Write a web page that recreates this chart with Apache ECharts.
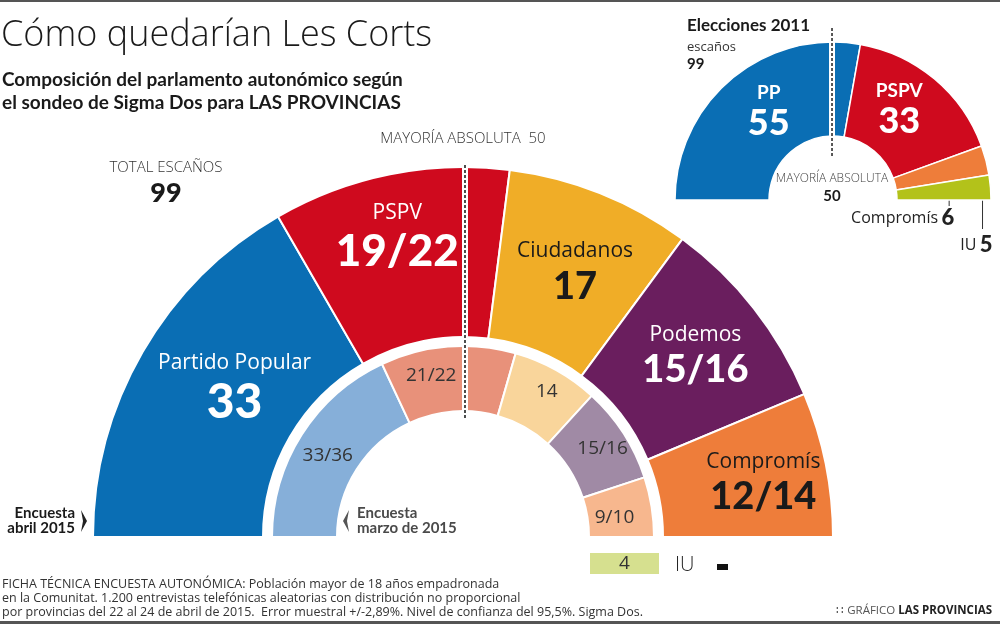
<!DOCTYPE html>
<html><head><meta charset="utf-8">
<script src="https://cdn.jsdelivr.net/npm/echarts@6/dist/echarts.min.js"></script>
<style>html,body{margin:0;padding:0;background:#fff}#c{width:1000px;height:624px}</style>
</head><body><div id="c"></div>
<script>
// ---------------- DATA ----------------
const partidos = ['Partido Popular', 'PSPV', 'Ciudadanos', 'Podemos', 'Compromís'];
// Encuesta abril 2015 (outer ring): printed labels and seat widths as drawn
const abrilEtiquetas = ['33', '19/22', '17', '15/16', '12/14'];
const abrilArco = [33, 20.5, 16, 17, 12.5];
// Encuesta marzo 2015 (inner ring)
const marzoEtiquetas = ['33/36', '21/22', '14', '15/16', '9/10'];
const marzoArco = [35.7, 22.6, 14.5, 16.2, 10.0];
// IU
const iuNombre = 'IU';
const iuMarzo = 4;
const iuAbril = '-';
// Elecciones 2011
const partidos2011 = ['PP', 'PSPV', 'Compromís', 'IU'];
const escanos2011 = [55, 33, 6, 5];
const totalEscanos = 99;
const mayoriaAbsoluta = 50;

// ---------------- STYLE ----------------
const colAbril = ['#0a6eb4', '#cf0a1e', '#f0ad27', '#6a1e5e', '#ee7d3a'];
const colMarzo = ['#86afd9', '#e8917a', '#f9d59b', '#a08aa5', '#f7b78e'];
const col2011 = ['#0a6eb4', '#cf0a1e', '#ee7d3a', '#b3c21a'];
const txtAbril = ['#fff', '#fff', '#1a1a1a', '#fff', '#1a1a1a'];
const valSize = [48, 44, 38, 38, 38];
const shiftAbril = [[21, -7], [-9, -20], [5, 0], [6, -6], [18, 0]];
const shiftMarzo = [[1, 5], [-19, 0], [5, -4], [4, -1], [-8, 6]];
const shift2011 = [[9, -3], [-7, -5]];
const CX = 463, CY = 537;
const CX2 = 833, CY2 = 200;
const FN = '"Open Sans", sans-serif';
const FB = 'Lato, "Open Sans", sans-serif';

function shiftLayout(shifts) {
  return function (p) {
    const s = shifts[p.dataIndex] || [0, 0];
    const r = p.labelRect;
    return { x: r.x + r.width / 2 + s[0], y: r.y + r.height / 2 + s[1], align: 'center', verticalAlign: 'middle' };
  };
}

const majAngle = Math.PI * (1 - mayoriaAbsoluta / totalEscanos);
const majX = CX + 126 * Math.cos(majAngle);
const majX2 = CX2 + 64 * Math.cos(majAngle) - 2;

const abrilData = partidos.map((p, i) => ({
  name: p, value: abrilArco[i],
  itemStyle: { color: colAbril[i] },
  label: {
    rich: {
      n: { fontFamily: FN, fontSize: 21, color: txtAbril[i], lineHeight: 30 },
      v: { fontFamily: FB, fontWeight: 900, fontSize: valSize[i], color: txtAbril[i], lineHeight: valSize[i] + 2 }
    }
  }
}));
const marzoData = partidos.map((p, i) => ({
  name: p, value: marzoArco[i], itemStyle: { color: colMarzo[i] }
}));

function mid2011(i) {
  let s = 0; for (let k = 0; k < i; k++) s += escanos2011[k];
  s += escanos2011[i] / 2;
  const tot = escanos2011.reduce((a, b) => a + b, 0);
  return Math.PI * (1 - s / tot);
}

const data2011 = partidos2011.map((p, i) => {
  const d = { name: p, value: escanos2011[i], itemStyle: { color: col2011[i] } };
  if (i >= 2) {
    d.label = { position: 'outside' };
    d.labelLine = { show: true, lineStyle: { color: '#333', width: 1 } };
  }
  return d;
});

const graphics = [
  { type: 'rect', z: 100, shape: { x: 0, y: 0, width: 1000, height: 2 }, style: { fill: '#555' } },
  { type: 'rect', z: 100, shape: { x: 0, y: 621, width: 1000, height: 3 }, style: { fill: '#555' } },
  { type: 'text', z: 100, style: { x: 1, y: 36, text: 'Cómo quedarían Les Corts', font: '300 36px "Open Sans"', fill: '#1a1a1a', align: 'left', verticalAlign: 'middle' } },
  { type: 'text', z: 100, style: { x: 2, y: 80, text: 'Composición del parlamento autonómico según', font: 'bold 19px Lato', fill: '#1a1a1a', align: 'left', verticalAlign: 'middle' } },
  { type: 'text', z: 100, style: { x: 2, y: 103, text: 'el sondeo de Sigma Dos para LAS PROVINCIAS', font: 'bold 19px Lato', fill: '#1a1a1a', align: 'left', verticalAlign: 'middle' } },
  { type: 'text', z: 100, style: { x: 463, y: 139, text: 'MAYORÍA ABSOLUTA  ' + mayoriaAbsoluta, font: '300 15px "Open Sans"', fill: '#333', align: 'center', verticalAlign: 'middle' } },
  { type: 'text', z: 100, style: { x: 166, y: 168, text: 'TOTAL ESCAÑOS', font: '300 15px "Open Sans"', fill: '#333', align: 'center', verticalAlign: 'middle' } },
  { type: 'text', z: 100, style: { x: 166, y: 193, text: String(totalEscanos), font: '900 27px Lato', fill: '#1a1a1a', align: 'center', verticalAlign: 'middle' } },
  // majority dashed lines (white band + dots)
  { type: 'line', z: 100, shape: { x1: majX, y1: CY - 372, x2: majX, y2: CY - 119 }, style: { stroke: '#fff', lineWidth: 6 } },
  { type: 'line', z: 101, shape: { x1: majX, y1: CY - 372, x2: majX, y2: CY - 119 }, style: { stroke: '#222', lineWidth: 1.6, lineDash: [3, 2] } },
  { type: 'line', z: 100, shape: { x1: majX2, y1: 28, x2: majX2, y2: 157 }, style: { stroke: '#fff', lineWidth: 6 } },
  { type: 'line', z: 101, shape: { x1: majX2, y1: 28, x2: majX2, y2: 157 }, style: { stroke: '#222', lineWidth: 1.5, lineDash: [3, 2] } },
  // small chart texts
  { type: 'text', z: 100, style: { x: 687, y: 26, text: 'Elecciones 2011', font: 'bold 17px Lato', fill: '#1a1a1a', align: 'left', verticalAlign: 'middle' } },
  { type: 'text', z: 100, style: { x: 687, y: 47, text: 'escaños', font: '13px "Open Sans"', fill: '#333', align: 'left', verticalAlign: 'middle' } },
  { type: 'text', z: 100, style: { x: 687, y: 64, text: String(totalEscanos), font: 'bold 15px Lato', fill: '#1a1a1a', align: 'left', verticalAlign: 'middle' } },
  { type: 'text', z: 100, style: { x: 832, y: 179, text: 'MAYORÍA ABSOLUTA', font: '300 12px "Open Sans"', fill: '#444', align: 'center', verticalAlign: 'middle' } },
  { type: 'text', z: 100, style: { x: 832, y: 196, text: String(mayoriaAbsoluta), font: 'bold 15px Lato', fill: '#1a1a1a', align: 'center', verticalAlign: 'middle' } },
  // encuesta markers
  { type: 'text', z: 100, style: { x: 75, y: 513, text: 'Encuesta', font: 'bold 15px Lato', fill: '#1a1a1a', align: 'right', verticalAlign: 'middle' } },
  { type: 'text', z: 100, style: { x: 75, y: 528, text: 'abril 2015', font: 'bold 15px Lato', fill: '#1a1a1a', align: 'right', verticalAlign: 'middle' } },
  { type: 'polygon', z: 100, shape: { points: [[81, 510], [87, 521], [81, 532], [83, 521]] }, style: { fill: '#222' } },
  { type: 'polygon', z: 100, shape: { points: [[349, 510], [343, 521], [349, 532], [347, 521]] }, style: { fill: '#555' } },
  { type: 'text', z: 100, style: { x: 357, y: 513, text: 'Encuesta', font: 'bold 15px Lato', fill: '#4a4a4a', align: 'left', verticalAlign: 'middle' } },
  { type: 'text', z: 100, style: { x: 357, y: 528, text: 'marzo de 2015', font: 'bold 15px Lato', fill: '#4a4a4a', align: 'left', verticalAlign: 'middle' } },
  // IU
  { type: 'text', z: 100, style: { x: 675, y: 565, text: iuNombre, font: '300 20px "Open Sans"', fill: '#222', align: 'left', verticalAlign: 'middle' } },
  // footnote
  { type: 'text', z: 100, style: { x: 2, y: 584, text: 'FICHA TÉCNICA ENCUESTA AUTONÓMICA: Población mayor de 18 años empadronada', font: '12.5px "Open Sans"', fill: '#333', align: 'left', verticalAlign: 'middle' } },
  { type: 'text', z: 100, style: { x: 2, y: 598, text: 'en la Comunitat. 1.200 entrevistas telefónicas aleatorias con distribución no proporcional', font: '12.5px "Open Sans"', fill: '#333', align: 'left', verticalAlign: 'middle' } },
  { type: 'text', z: 100, style: { x: 2, y: 612, text: 'por provincias del 22 al 24 de abril de 2015.  Error muestral +/-2,89%. Nivel de confianza del 95,5%. Sigma Dos.', font: '12.5px "Open Sans"', fill: '#333', align: 'left', verticalAlign: 'middle' } },
  { type: 'text', z: 100, style: { x: 992, y: 611, text: '{a|∷ GRÁFICO }{b|LAS PROVINCIAS}', align: 'right', verticalAlign: 'middle',
      rich: { a: { fontFamily: FN, fontSize: 11.5, fill: '#555' }, b: { fontFamily: FN, fontWeight: 'bold', fontSize: 11.5, fill: '#222' } } } }
];
// IU in the April survey: no seats, drawn as a dash
if (iuAbril === '-') {
  graphics.push({ type: 'rect', z: 100, shape: { x: 717, y: 564, width: 11, height: 6 }, style: { fill: '#111' } });
}

const chart = echarts.init(document.getElementById('c'), null, { renderer: 'canvas' });
chart.setOption({
  animation: false,
  backgroundColor: '#fff',
  grid: { left: 590, top: 553, width: 69, height: 21 },
  xAxis: { type: 'value', min: 0, max: iuMarzo, show: false },
  yAxis: { type: 'category', data: [iuNombre], show: false },
  series: [
    {
      type: 'pie', center: [CX, CY], radius: [200, 370], startAngle: 180, endAngle: 0,
      clockwise: true, silent: true, avoidLabelOverlap: false,
      itemStyle: { borderColor: '#fff', borderWidth: 2 },
      label: {
        show: true, position: 'inside',
        formatter: p => '{n|' + p.name + '}\n{v|' + abrilEtiquetas[p.dataIndex] + '}'
      },
      labelLine: { show: false },
      labelLayout: shiftLayout(shiftAbril),
      data: abrilData
    },
    {
      type: 'pie', center: [CX, CY], radius: [126, 191], startAngle: 180, endAngle: 0,
      clockwise: true, silent: true, avoidLabelOverlap: false,
      itemStyle: { borderColor: '#fff', borderWidth: 2 },
      label: {
        show: true, position: 'inside',
        formatter: p => marzoEtiquetas[p.dataIndex],
        fontFamily: FN, fontSize: 19, color: '#333'
      },
      labelLine: { show: false },
      labelLayout: shiftLayout(shiftMarzo),
      data: marzoData
    },
    {
      type: 'pie', center: [CX2, CY2], radius: [64, 158], startAngle: 180, endAngle: 0,
      clockwise: true, silent: true, avoidLabelOverlap: false,
      itemStyle: { borderColor: '#fff', borderWidth: 1.5 },
      label: {
        show: true, position: 'inside',
        formatter: p => p.dataIndex < 2 ? '{n|' + p.name + '}\n{v|' + p.value + '}' : '{o|' + p.name + '} {w|' + p.value + '}',
        rich: {
          n: { fontFamily: FB, fontWeight: 'bold', fontSize: 19, color: '#fff', lineHeight: 24 },
          v: { fontFamily: FB, fontWeight: 900, fontSize: 36, color: '#fff', lineHeight: 36 },
          o: { fontFamily: FN, fontSize: 16, color: '#222' },
          w: { fontFamily: FB, fontWeight: 900, fontSize: 22, color: '#222' }
        }
      },
      labelLine: { show: false },
      labelLayout: function (p) {
        const i = p.dataIndex;
        const r = p.labelRect;
        if (i < 2) {
          const s = shift2011[i];
          return { x: r.x + r.width / 2 + s[0], y: r.y + r.height / 2 + s[1], align: 'center', verticalAlign: 'middle' };
        }
        const a = mid2011(i);
        const rr = i === 2 ? 120 : 150;
        const x0 = CX2 + rr * Math.cos(a);
        const y0 = CY2 - rr * Math.sin(a);
        const yEnd = i === 2 ? 206 : 229;
        const lx = i === 2 ? x0 + 5 : x0 + 10;
        const ly = i === 2 ? 218 : 245;
        return { x: lx, y: ly, align: 'right', verticalAlign: 'middle',
          labelLinePoints: [[x0, y0], [x0, yEnd], [x0, yEnd]] };
      },
      data: data2011
    },
    {
      type: 'bar', data: [iuMarzo], barWidth: '100%', silent: true,
      itemStyle: { color: '#d6e08f' },
      label: { show: true, position: 'inside', fontFamily: FN, fontSize: 19, color: '#333' }
    }
  ],
  graphic: graphics
});
</script>
</body></html>
